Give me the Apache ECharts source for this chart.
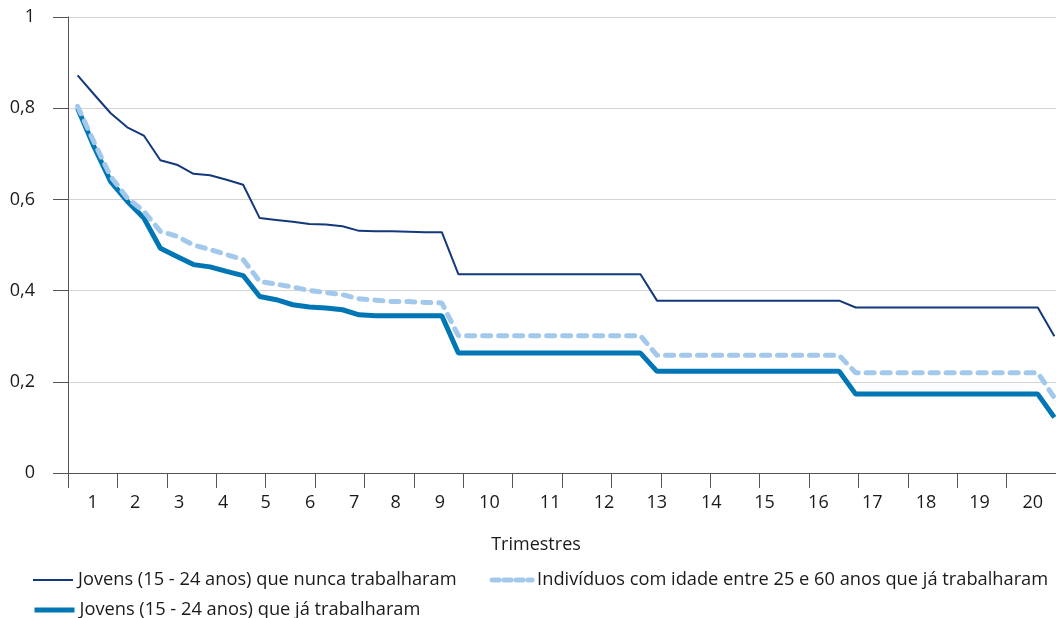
<!DOCTYPE html>
<html>
<head>
<meta charset="utf-8">
<script src="https://cdn.jsdelivr.net/npm/echarts@6/dist/echarts.min.js"></script>
<style>html,body{margin:0;padding:0;background:#fff;}#c{width:1056px;height:618px;}</style>
</head>
<body>
<div id="c"></div>
<script>
const categories = ['1','2','3','4','5','6','7','8','9','10','11','12','13','14','15','16','17','18','19','20'];
const tickValues = [0,1,2,3,4,5,6,7,8,9,10,11,12,13,14,15,16,17,18,19,20];
const labelValues = [0.50,1.36,2.25,3.14,4.00,4.90,5.79,6.63,7.53,8.53,9.76,10.85,11.92,13.02,14.10,15.19,16.28,17.37,18.45,19.53];
const months = [1,2,3,4,5,6,7,8,9,10,11,12,13,14,15,16,17,18,19,20,21,22,23,24,25,26,27,28,29,30,31,32,33,34,35,36,37,38,39,40,41,42,43,44,45,46,47,48,49,50,51,52,53,54,55,56,57,58,59,60];
const yTicks = [0, 0.2, 0.4, 0.6, 0.8, 1];
const nuncaName = 'Jovens (15 - 24 anos) que nunca trabalharam';
const indivName = 'Indivíduos com idade entre 25 e 60 anos que já trabalharam';
const jaName = 'Jovens (15 - 24 anos) que já trabalharam';
const nuncaValues = [0.872,0.830,0.789,0.758,0.740,0.686,0.676,0.656,0.653,0.643,0.632,0.559,
  0.555,0.551,0.546,0.545,0.541,0.531,0.530,0.530,0.529,0.528,0.528,0.436,
  0.436,0.436,0.436,0.436,0.436,0.436,0.436,0.436,0.436,0.436,0.436,0.378,
  0.378,0.378,0.378,0.378,0.378,0.378,0.378,0.378,0.378,0.378,0.378,0.363,
  0.363,0.363,0.363,0.363,0.363,0.363,0.363,0.363,0.363,0.363,0.363,0.300];
const indivValues = [0.804,0.725,0.650,0.603,0.574,0.530,0.519,0.500,0.490,0.479,0.468,0.420,
  0.414,0.408,0.400,0.396,0.391,0.382,0.379,0.376,0.376,0.374,0.373,0.301,
  0.301,0.301,0.301,0.301,0.301,0.301,0.301,0.301,0.301,0.301,0.301,0.258,
  0.258,0.258,0.258,0.258,0.258,0.258,0.258,0.258,0.258,0.258,0.258,0.220,
  0.220,0.220,0.220,0.220,0.220,0.220,0.220,0.220,0.220,0.220,0.220,0.165];
const jaValues = [0.800,0.715,0.639,0.596,0.559,0.493,0.475,0.457,0.452,0.442,0.433,0.387,
  0.380,0.369,0.364,0.362,0.358,0.347,0.345,0.345,0.345,0.345,0.345,0.263,
  0.263,0.263,0.263,0.263,0.263,0.263,0.263,0.263,0.263,0.263,0.263,0.223,
  0.223,0.223,0.223,0.223,0.223,0.223,0.223,0.223,0.223,0.223,0.223,0.173,
  0.173,0.173,0.173,0.173,0.173,0.173,0.173,0.173,0.173,0.173,0.173,0.122];

const pair = vals => months.map((m, i) => [m, vals[i]]);
const FONT = 'Open Sans';
const FS = 18;
const LFS = 18.25;
const TXT = '#1a1a1a';
const C_NUNCA = '#13397c', C_JA = '#0077b4', C_IND = '#a2c9ec';

const chart = echarts.init(document.getElementById('c'), null, {renderer: 'canvas'});
chart.setOption({
  animation: false,
  backgroundColor: '#ffffff',
  textStyle: {fontFamily: FONT},
  grid: {left: 68, top: 17, width: 991, height: 456, containLabel: false},
  legend: [
    {
      data: [
        {name: nuncaName, itemStyle: {opacity: 0}, lineStyle: {color: C_NUNCA, width: 2}},
        {name: indivName, itemStyle: {opacity: 0}, lineStyle: {color: C_IND, width: 5, type: [7, 5], cap: 'round'}}
      ],
      left: 32, top: 571, orient: 'horizontal',
      itemWidth: 40, itemHeight: 14, itemGap: 33, padding: 0,
      textStyle: {fontFamily: FONT, fontSize: LFS, color: TXT}
    },
    {
      data: [
        {name: jaName, itemStyle: {opacity: 0}, lineStyle: {color: C_JA, width: 5}}
      ],
      left: 32, top: 601, orient: 'horizontal',
      itemWidth: 40, itemHeight: 14, padding: 0,
      textStyle: {fontFamily: FONT, fontSize: LFS, color: TXT}
    }
  ],
  graphic: [{
    type: 'text', x: 536, y: 545,
    style: {text: 'Trimestres', font: FS + 'px "Open Sans"', fill: TXT, align: 'center', verticalAlign: 'middle'}
  }],
  xAxis: [
    {
      type: 'value', min: tickValues[0], max: tickValues[tickValues.length - 1], interval: 1,
      axisLine: {show: true, onZero: false, lineStyle: {color: '#555', width: 1}},
      axisTick: {show: true, length: 15, customValues: tickValues, lineStyle: {color: '#555'}},
      axisLabel: {
        fontSize: FS, color: TXT, margin: 21, fontFamily: FONT,
        customValues: labelValues, showMinLabel: true, showMaxLabel: true,
        formatter: v => categories[labelValues.indexOf(v)]
      },
      splitLine: {show: false}
    },
    {
      type: 'value', min: 0.42, max: 60.1, show: false,
      splitLine: {show: false}
    }
  ],
  yAxis: {
    type: 'value', min: yTicks[0], max: yTicks[yTicks.length - 1], interval: 0.2,
    axisLine: {show: true, lineStyle: {color: '#555', width: 1}},
    axisTick: {show: true, length: 15, lineStyle: {color: '#555'}},
    axisLabel: {
      fontSize: FS, color: TXT, margin: 33, fontFamily: FONT,
      formatter: v => String(Math.round(v * 10) / 10).replace('.', ',')
    },
    splitLine: {show: true, lineStyle: {color: '#d4d4d4', width: 1}}
  },
  series: [
    {
      name: nuncaName, type: 'line', xAxisIndex: 1, data: pair(nuncaValues),
      symbol: 'none', z: 3,
      lineStyle: {color: C_NUNCA, width: 2},
      itemStyle: {color: C_NUNCA}
    },
    {
      name: jaName, type: 'line', xAxisIndex: 1, data: pair(jaValues),
      symbol: 'none', z: 4,
      lineStyle: {color: C_JA, width: 5},
      itemStyle: {color: C_JA}
    },
    {
      name: indivName, type: 'line', xAxisIndex: 1, data: pair(indivValues),
      symbol: 'none', z: 5,
      lineStyle: {color: C_IND, width: 5, type: [8, 8], cap: 'round'},
      itemStyle: {color: C_IND}
    }
  ]
});
</script>
</body>
</html>
